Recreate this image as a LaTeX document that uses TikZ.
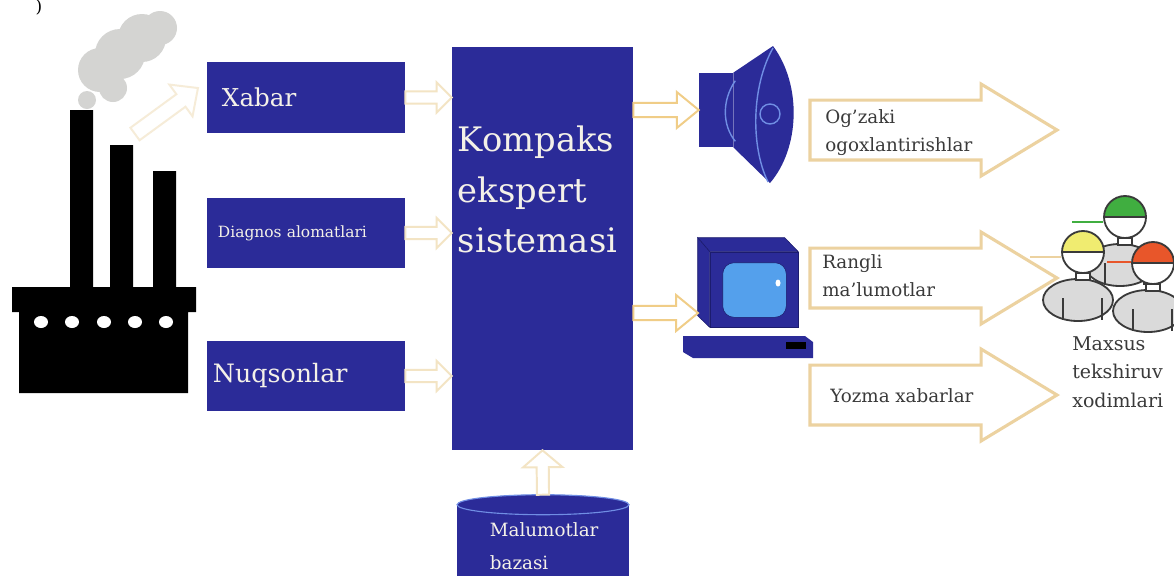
\documentclass[tikz,border=0pt]{standalone}
\usepackage{fontspec}
\setmainfont{DejaVu Serif}
\usetikzlibrary{calc,positioning}

\definecolor{kblue}{RGB}{43,43,152}
\definecolor{kdark}{RGB}{28,28,110}
\definecolor{kline}{RGB}{112,142,228}
\definecolor{kscreen}{RGB}{84,160,236}
\definecolor{kcream}{RGB}{243,228,196}
\definecolor{korange}{RGB}{240,205,135}
\definecolor{kbig}{RGB}{236,210,160}
\definecolor{kfaint}{RGB}{246,236,216}
\definecolor{ktext}{RGB}{58,58,58}
\definecolor{kwhite}{RGB}{244,241,232}
\definecolor{ksmoke}{RGB}{212,212,210}
\definecolor{kbody}{RGB}{218,218,218}
\definecolor{kgreen}{RGB}{64,174,64}
\definecolor{kyellow}{RGB}{240,236,112}
\definecolor{kred}{RGB}{232,86,42}

% hollow block arrow between two points: [style]{from}{to}{half shaft}{half head}{head length}
\newcommand\fatarrow[6][]{%
  \path let \p1=($(#3)-(#2)$) in
    \pgfextra{\pgfmathsetmacro\fatang{atan2(\y1,\x1)}\pgfmathsetmacro\fatlen{veclen(\x1,\y1)}%
      \global\let\fatang\fatang\global\let\fatlen\fatlen};
  \draw[hollow,#1,shift={(#2)},rotate=\fatang]
    (0pt,#4) -- ({\fatlen pt-#6},#4) -- ({\fatlen pt-#6},#5) -- ({\fatlen pt},0pt)
    -- ({\fatlen pt-#6},-#5) -- ({\fatlen pt-#6},-#4) -- (0pt,-#4) -- cycle;}

% one of the staff figures: head x, head y, cap colour
\newcommand\worker[3]{%
  \filldraw[fill=kbody, draw=ktext, line width=1.3pt] (#1-5,#2+48) ellipse [x radius=35, y radius=21];
  \draw[ktext, line width=1.2pt] (#1-20,#2+46) -- (#1-20,#2+68) (#1+19,#2+46) -- (#1+19,#2+68);
  \filldraw[fill=white, draw=ktext, line width=1.2pt] (#1-7,#2+21) rectangle (#1+7,#2+28);
  \fill[white] (#1,#2) circle [radius=21];
  \fill[#3] (#1+21,#2) arc [start angle=0, end angle=-180, radius=21] -- cycle;
  \draw[ktext, line width=1.3pt] (#1,#2) circle [radius=21] (#1-21,#2) -- (#1+21,#2);
}

\begin{document}
\begin{tikzpicture}[x=0.025cm, y=-0.025cm,
    bluebox/.style={fill=kblue, inner sep=0pt, align=left, text=kwhite},
    note/.style={inner sep=0pt, align=left, text=ktext, font=\fontsize{13}{20}\selectfont},
    hollow/.style={draw=kcream, fill=white, line width=1.4pt, line join=miter},
    feed/.style={draw=korange},
    big/.style={draw=kbig, line width=2.2pt},
]
  \useasboundingbox (0,0) rectangle (1174,575);
  \clip (0,0) rectangle (1174,575);
  \fill[white] (0,0) rectangle (1174,575);

  \node[text=black, font=\fontsize{12}{14}\selectfont, inner sep=0pt] (tag) at (39,7) {)};

  % factory
  \fill[ksmoke] (87,100) circle [radius=9] (113,88) circle [radius=14]
    (100,70) circle [radius=22] (120,54) circle [radius=25]
    (142,38) circle [radius=24] (160,28) circle [radius=17];
  \fill[black] (70,110) rectangle (93,290) (110,145) rectangle (133,290) (153,171) rectangle (176,290);
  \fill[black] (12,287) rectangle (196,312) (19,312) rectangle (188,393);
  \foreach \hx in {41,72,104,135,166}
    \fill[white] (\hx,322) ellipse [x radius=7, y radius=6];

  % inputs
  \node[bluebox, minimum width=4.95cm, minimum height=1.775cm, text width=4.2cm,
        font=\fontsize{17.5}{20}\selectfont] (xabar) at (306,97.5) {Xabar};
  \node[bluebox, minimum width=4.95cm, minimum height=1.75cm, text width=4.4cm,
        font=\fontsize{11}{13}\selectfont] (diag) at (306,233) {Diagnos alomatlari};
  \node[bluebox, minimum width=4.95cm, minimum height=1.75cm, text width=4.65cm,
        font=\fontsize{18}{20}\selectfont] (nuqson) at (306,376) {Nuqsonlar};

  % expert system
  \node[bluebox, minimum width=4.525cm, minimum height=10.075cm] (kes) at (542.5,248.5) {};
  \node[bluebox, fill=none, anchor=north west, font=\fontsize{24}{36}\selectfont]
    (kestext) at ($(kes.north west)+(6,79)$) {Kompaks\\ekspert\\sistemasi};

  % database
  \node[bluebox, minimum width=4.3cm, minimum height=2.05cm, text width=2.65cm,
        font=\fontsize{13}{23}\selectfont] (db) at (543,546) {Malumotlar\\bazasi};
  \filldraw[fill=kblue, draw=kline, line width=0.8pt] (db.north) ellipse [x radius=86, y radius=10];
  \coordinate (dbtop) at ($(db.north)+(0,-10)$);

  % loudspeaker
  \node[bluebox, minimum width=0.85cm, minimum height=1.85cm] (spk) at (716,110) {};
  \fill[kblue] (spk.north east) -- (773,46) .. controls (802,85) and (800,148) .. (770,183)
    -- (spk.south east) -- cycle;
  \draw[kline, line width=1pt] ($(spk.north east)+(2,8)$) .. controls (722,100) and (722,125) .. ($(spk.south east)+(2,-6)$);
  \draw[kline, line width=1pt] (773,48) .. controls (752,85) and (750,145) .. (768,182);
  \draw[kline, line width=1pt] (770,114) circle [radius=10];

  % computer
  \node[bluebox, draw=kdark, minimum width=2.2cm, minimum height=1.875cm] (mon) at (754,289.5) {};
  \filldraw[fill=kblue, draw=kdark] (mon.north west) -- ++(-12,-14) -- ++(87,0) -- (mon.north east) -- cycle;
  \filldraw[fill=kblue, draw=kdark] (mon.north west) -- ++(-12,-14) -- ++(0,78) -- (mon.south west) -- cycle;
  \filldraw[fill=kscreen, draw=kdark, rounded corners=8] ($(mon.north west)+(13,11)$) rectangle ($(mon.south east)+(-12,-10)$);
  \fill[white] (778,283) ellipse [x radius=2.5, y radius=3.5];
  \fill[kblue] (683,336) -- (805,336) -- (813,342) -- (813,358) -- (693,358) -- (683,352) -- cycle;
  \fill[black] (786,342) rectangle (806,349);
  \coordinate (monin) at (698,313);

  % staff
  \worker{1125}{217}{kgreen}
  \worker{1083}{252}{kyellow}
  \worker{1153}{263}{kred}
  \draw[kgreen, line width=1pt] (1072,222) -- (1103,222);
  \draw[kbig, line width=1pt] (1030,257) -- (1061,257);
  \draw[kred, line width=1pt] (1107,262) -- (1131,262);
  \node[note, anchor=north west, font=\fontsize{13.5}{20.5}\selectfont] (staff) at (1072,336)
    {Maxsus\\tekshiruv\\xodimlari};

  % connectors
  \coordinate (fume) at (135,134);
  \coordinate (fumeend) at (198,88);
  \fatarrow[draw=kfaint]{fume}{fumeend}{5.5pt}{14pt}{15pt}
  \fatarrow{xabar.east}{kes.west |- xabar.east}{4.3pt}{10.7pt}{10.7pt}
  \fatarrow{diag.east}{kes.west |- diag.east}{4.3pt}{10.7pt}{10.7pt}
  \fatarrow{nuqson.east}{kes.west |- nuqson.east}{4.3pt}{10.7pt}{10.7pt}
  \fatarrow{dbtop}{kes.south}{4.3pt}{14pt}{12pt}
  \fatarrow[feed]{kes.east |- spk.west}{spk.west}{5pt}{12.8pt}{15.6pt}
  \fatarrow[feed]{kes.east |- monin}{monin}{5pt}{12.8pt}{15.6pt}

  % outputs
  \coordinate (voice) at (810,130);   \coordinate (voiceend) at (1057,130);
  \coordinate (colour) at (810,278);  \coordinate (colourend) at (1057,278);
  \coordinate (print) at (810,395);   \coordinate (printend) at (1057,395);
  \fatarrow[big]{voice}{voiceend}{21.3pt}{32.7pt}{54pt}
  \fatarrow[big]{colour}{colourend}{21.3pt}{32.7pt}{54pt}
  \fatarrow[big]{print}{printend}{21.3pt}{32.7pt}{54pt}
  \node[note, anchor=north west] (voicetext) at (825,109) {Og'zaki\\ogoxlantirishlar};
  \node[note, anchor=north west] (colourtext) at (822,254) {Rangli\\ma'lumotlar};
  \node[note, anchor=base west] (printtext) at (830,402) {Yozma xabarlar};
\end{tikzpicture}
\end{document}
